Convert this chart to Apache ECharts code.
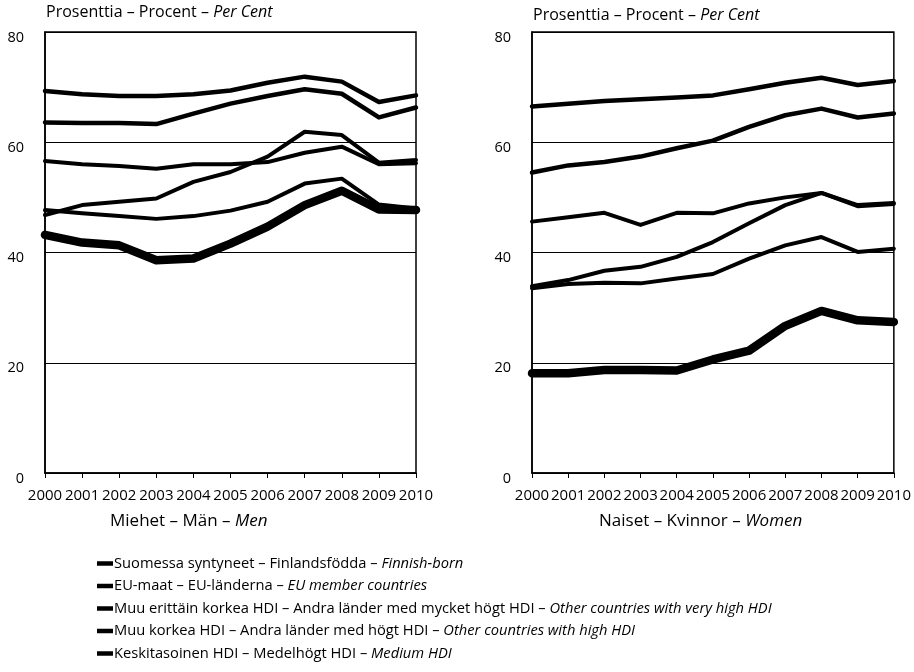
<!DOCTYPE html>
<html><head><meta charset="utf-8">
<script src="https://cdn.jsdelivr.net/npm/echarts@6/dist/echarts.min.js"></script>
<style>html,body{margin:0;padding:0;background:#fff}#c{width:914px;height:672px}</style>
</head><body><div id="c"></div>
<script>
const years = ['2000','2001','2002','2003','2004','2005','2006','2007','2008','2009','2010'];
const yTicks = [0, 20, 40, 60, 80];

const menFinnish  = [69.3, 68.7, 68.4, 68.4, 68.7, 69.4, 70.8, 71.9, 71.0, 67.3, 68.5];
const menEU       = [63.6, 63.5, 63.5, 63.3, 65.2, 67.0, 68.4, 69.6, 68.8, 64.5, 66.3];
const menVeryHigh = [56.6, 56.0, 55.7, 55.2, 56.0, 56.0, 56.4, 58.1, 59.2, 56.0, 56.2];
const menHigh     = [46.8, 48.6, 49.2, 49.8, 52.8, 54.6, 57.4, 61.9, 61.3, 56.3, 56.8];
const menMedium   = [43.2, 41.8, 41.3, 38.6, 38.9, 41.6, 44.7, 48.6, 51.2, 47.8, 47.7];
const menOther    = [47.7, 47.1, 46.6, 46.1, 46.6, 47.6, 49.2, 52.5, 53.4, 48.7, 48.0];

const womenFinnish  = [66.5, 67.0, 67.5, 67.8, 68.1, 68.5, 69.6, 70.8, 71.7, 70.4, 71.1];
const womenEU       = [54.5, 55.8, 56.4, 57.4, 58.9, 60.3, 62.8, 64.9, 66.1, 64.5, 65.2];
const womenVeryHigh = [45.6, 46.4, 47.2, 45.0, 47.2, 47.1, 48.9, 50.0, 50.8, 48.4, 48.8];
const womenHigh     = [33.9, 35.0, 36.7, 37.4, 39.2, 41.9, 45.3, 48.6, 50.8, 48.6, 49.0];
const womenMedium   = [18.1, 18.1, 18.7, 18.7, 18.6, 20.6, 22.2, 26.7, 29.4, 27.7, 27.4];
const womenOther    = [33.5, 34.3, 34.5, 34.4, 35.3, 36.1, 38.9, 41.3, 42.8, 40.1, 40.7];

const legendNames = [
  ['Suomessa syntyneet – Finlandsfödda – ', 'Finnish-born'],
  ['EU-maat – EU-länderna – ', 'EU member countries'],
  ['Muu erittäin korkea HDI – Andra länder med mycket högt HDI – ', 'Other countries with very high HDI'],
  ['Muu korkea HDI – Andra länder med högt HDI – ', 'Other countries with high HDI'],
  ['Keskitasoinen HDI – Medelhögt HDI – ', 'Medium HDI']
];
const otherName = 'Muu – Övriga – Other';
const names = legendNames.map(n => n[0] + n[1]);

const FONT = 'Open Sans';
const menSets = [menFinnish, menEU, menVeryHigh, menHigh, menMedium, menOther];
const womenSets = [womenFinnish, womenEU, womenVeryHigh, womenHigh, womenMedium, womenOther];
const seriesNames = names.concat([otherName]);
const widths = [4.5, 4.5, 4, 4, 8.5, 4];

function mkSeries(sets, idx) {
  return sets.map((d, i) => ({
    type: 'line', name: seriesNames[i], xAxisIndex: idx, yAxisIndex: idx,
    data: d, symbol: 'none', color: '#000',
    lineStyle: { color: '#000', width: widths[i], join: 'round', cap: 'round' },
    z: 5
  }));
}

function xAxis(idx) {
  return {
    gridIndex: idx, type: 'category', data: years, boundaryGap: false,
    axisLine: { show: true, lineStyle: { color: '#000', width: 1.5 } },
    axisTick: { show: true, length: 5, lineStyle: { color: '#000', width: 1 } },
    axisLabel: { interval: 0, margin: 15, color: '#000', fontFamily: FONT, fontSize: 15 },
    splitLine: { show: false }
  };
}
function yAxis(idx) {
  return {
    gridIndex: idx, type: 'value', min: yTicks[0], max: yTicks[yTicks.length - 1], interval: 20,
    axisLine: { show: true, lineStyle: { color: '#000', width: 1.5 } },
    axisTick: { show: false },
    axisLabel: {
      margin: 21, color: '#000', fontFamily: FONT, fontSize: 14.5,
      formatter: function (v) { return '{v|' + v + '}'; },
      rich: { v: { fontFamily: FONT, fontSize: 14.5, color: '#000', padding: [11, 0, 0, 0] } }
    },
    splitLine: { show: true, lineStyle: { color: '#000', width: 1 } }
  };
}

function rich(sz) {
  return {
    n: { fontFamily: FONT, fontSize: sz, color: '#000', fontWeight: 'normal' },
    i: { fontFamily: FONT, fontSize: sz, color: '#000', fontWeight: 'normal', fontStyle: 'italic' }
  };
}

const chart = echarts.init(document.getElementById('c'), null, { renderer: 'canvas' });
chart.setOption({
  backgroundColor: '#fff',
  animation: false,
  title: [
    { text: '{n|Prosenttia – Procent – }{i|Per Cent}', left: 46, top: 4, padding: 0, textStyle: { fontWeight: 'normal', rich: rich(16) } },
    { text: '{n|Prosenttia – Procent – }{i|Per Cent}', left: 533, top: 7, padding: 0, textStyle: { fontWeight: 'normal', rich: rich(16) } },
    { text: '{n|Miehet – Män – }{i|Men}', left: 110, top: 513, padding: 0, textStyle: { fontWeight: 'normal', rich: rich(17) } },
    { text: '{n|Naiset – Kvinnor – }{i|Women}', left: 599, top: 513, padding: 0, textStyle: { fontWeight: 'normal', rich: rich(17) } }
  ],
  grid: [
    { left: 45, right: 498, top: 32, bottom: 199, show: true, borderColor: '#000', borderWidth: 1.5, backgroundColor: 'transparent' },
    { left: 532, right: 10, top: 32, bottom: 199, show: true, borderColor: '#000', borderWidth: 1.5, backgroundColor: 'transparent' }
  ],
  xAxis: [xAxis(0), xAxis(1)],
  yAxis: [yAxis(0), yAxis(1)],
  legend: {
    data: names, orient: 'vertical', left: 97, top: 555, padding: 0,
    icon: 'rect', itemWidth: 16, itemHeight: 4.5, itemGap: 5.5,
    selectedMode: false,
    formatter: function (name) {
      const k = names.indexOf(name);
      return '{n|' + legendNames[k][0] + '}{i|' + legendNames[k][1] + '}';
    },
    textStyle: { color: '#000', fontFamily: FONT, fontSize: 14.7, lineHeight: 17, padding: [0, 0, 0, -4], rich: rich(14.7) }
  },
  series: mkSeries(menSets, 0).concat(mkSeries(womenSets, 1))
});
</script></body></html>
